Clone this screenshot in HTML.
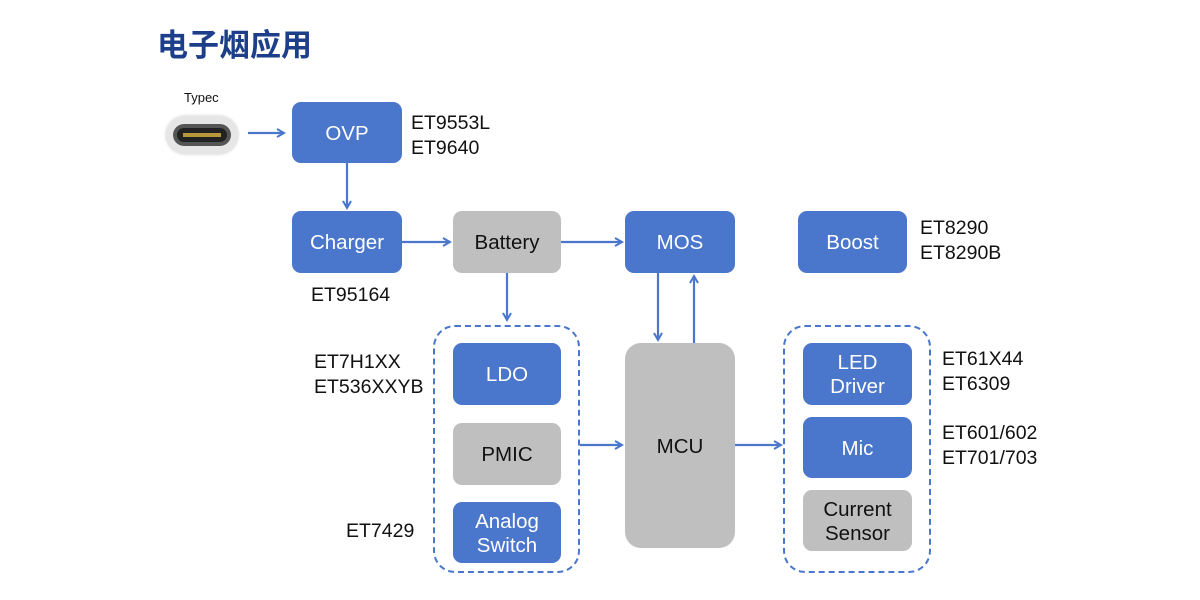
<!DOCTYPE html>
<html><head><meta charset="utf-8"><style>
body{margin:0;width:1200px;height:600px;background:#fff;position:relative;overflow:hidden;font-family:"Liberation Sans","Noto Sans CJK SC",sans-serif}
.b{position:absolute;border-radius:9px;display:flex;align-items:center;justify-content:center;text-align:center;font-size:20.5px;line-height:24px;padding-top:2px;box-sizing:border-box}
.bl{background:#4a76cb;color:#fff}
.gr{background:#bfbfbf;color:#111}
.t{position:absolute;font-size:19.5px;line-height:25px;color:#111}
.d{position:absolute;border:2px dashed #4a76cb;border-radius:22px;box-sizing:border-box}
</style></head><body>
<div style="position:absolute;left:157px;top:23px;font-size:31px;font-weight:bold;color:#1d3f8a;font-family:'Noto Sans CJK SC',sans-serif;line-height:40px">电子烟应用</div>
<div class="t" style="left:184px;top:89px;font-size:13px;line-height:18px">Typec</div>
<div style="position:absolute;left:166px;top:116px;width:72px;height:38px;border-radius:19px;background:#e6e6e6;box-shadow:0 0 3px #ccc"></div>
<div style="position:absolute;left:173px;top:124px;width:58px;height:22px;border-radius:11px;background:#555;"></div>
<div style="position:absolute;left:177px;top:128px;width:50px;height:14px;border-radius:7px;background:#222;"></div>
<div style="position:absolute;left:183px;top:133px;width:38px;height:4px;background:#b8963a;"></div>

<div class="d" style="left:433px;top:325px;width:147px;height:248px"></div>
<div class="d" style="left:783px;top:325px;width:148px;height:248px"></div>

<div class="b bl" style="left:292px;top:102px;width:110px;height:61px">OVP</div>
<div class="b bl" style="left:292px;top:211px;width:110px;height:62px">Charger</div>
<div class="b gr" style="left:453px;top:211px;width:108px;height:62px">Battery</div>
<div class="b bl" style="left:625px;top:211px;width:110px;height:62px">MOS</div>
<div class="b bl" style="left:798px;top:211px;width:109px;height:62px">Boost</div>
<div class="b bl" style="left:453px;top:343px;width:108px;height:62px">LDO</div>
<div class="b gr" style="left:453px;top:423px;width:108px;height:62px">PMIC</div>
<div class="b bl" style="left:453px;top:502px;width:108px;height:61px">Analog<br>Switch</div>
<div class="b gr" style="left:625px;top:343px;width:110px;height:205px;border-radius:16px">MCU</div>
<div class="b bl" style="left:803px;top:343px;width:109px;height:62px">LED<br>Driver</div>
<div class="b bl" style="left:803px;top:417px;width:109px;height:61px">Mic</div>
<div class="b gr" style="left:803px;top:490px;width:109px;height:61px">Current<br>Sensor</div>

<div class="t" style="left:411px;top:111px">ET9553L<br>ET9640</div>
<div class="t" style="left:311px;top:283px">ET95164</div>
<div class="t" style="left:920px;top:216px">ET8290<br>ET8290B</div>
<div class="t" style="left:314px;top:350px">ET7H1XX<br>ET536XXYB</div>
<div class="t" style="left:346px;top:519px">ET7429</div>
<div class="t" style="left:942px;top:347px">ET61X44<br>ET6309</div>
<div class="t" style="left:942px;top:421px">ET601/602<br>ET701/703</div>

<svg width="1200" height="600" style="position:absolute;left:0;top:0" fill="none" stroke="#4a76cb" stroke-width="2.2">
<defs><marker id="a" markerWidth="10" markerHeight="10" refX="8" refY="5" orient="auto" markerUnits="userSpaceOnUse"><path d="M1,1 L8,5 L1,9" fill="none" stroke="#4a76cb" stroke-width="2"/></marker></defs>
<line x1="248" y1="133" x2="284" y2="133" marker-end="url(#a)"/>
<line x1="347" y1="163" x2="347" y2="208" marker-end="url(#a)"/>
<line x1="402" y1="242" x2="450" y2="242" marker-end="url(#a)"/>
<line x1="561" y1="242" x2="622" y2="242" marker-end="url(#a)"/>
<line x1="507" y1="273" x2="507" y2="320" marker-end="url(#a)"/>
<line x1="658" y1="273" x2="658" y2="340" marker-end="url(#a)"/>
<line x1="694" y1="343" x2="694" y2="276" marker-end="url(#a)"/>
<line x1="580" y1="445" x2="622" y2="445" marker-end="url(#a)"/>
<line x1="735" y1="445" x2="781" y2="445" marker-end="url(#a)"/>
</svg>
</body></html>
